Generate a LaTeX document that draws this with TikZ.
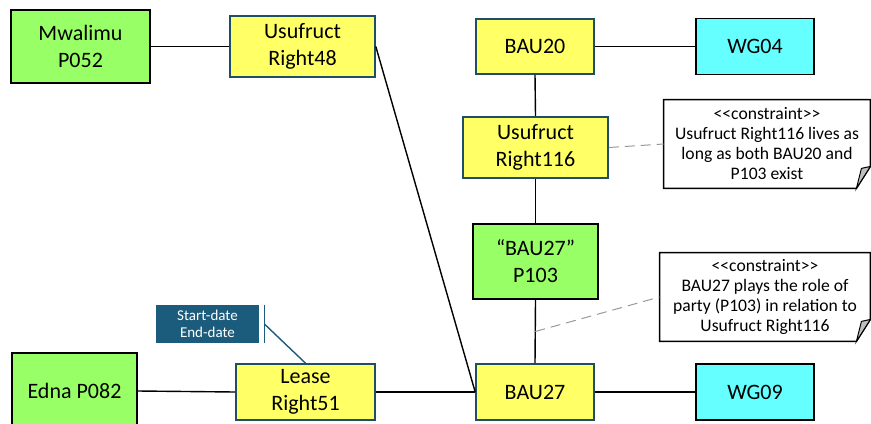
\documentclass[tikz,border=0pt]{standalone}
\usepackage{fontspec}
\setmainfont{Carlito}
\usepackage{tikz}
\usetikzlibrary{positioning,calc}
\definecolor{partygreen}{HTML}{99FF66}
\definecolor{rightyellow}{HTML}{FFFF66}
\definecolor{groupcyan}{HTML}{66FFFF}
\definecolor{rimblue}{HTML}{1F4E68}
\definecolor{datesteal}{HTML}{1B5C7C}

\begin{document}
\begin{tikzpicture}[
    x=0.5pt, y=-0.5pt,
    font=\fontsize{11}{13.5}\selectfont,
    box/.style={draw, inner sep=0pt, align=center, line width=0.8pt},
    party/.style={box, fill=partygreen, draw=black, minimum width=#1},
    right/.style={box, fill=rightyellow, draw=rimblue, minimum width=#1},
    group/.style={box, fill=groupcyan, draw=black, minimum width=59pt, minimum height=28pt},
    link/.style={line width=0.7pt},
    note/.style={inner sep=0pt, align=center, font=\fontsize{8.8}{10}\selectfont},
    hint/.style={dashed, dash pattern=on 5pt off 3pt, draw=black!40, line width=0.5pt}
]
\useasboundingbox (0,0) rectangle (871,423);

% parties and rights
\node[party=69.5pt, minimum height=36.5pt] (mwalimu) at (80.5,46.5) {Mwalimu\\P052};
\node[right=72.5pt, minimum height=30.5pt] (right48) at (302.5,46.5) {Usufruct\\Right48};
\node[right=59pt, minimum height=27.5pt] (bau20) at (535,46.5) {BAU20};
\node[group] (wg04) at (755,46.5) {WG04};
\node[right=72.5pt, minimum height=30.5pt] (right116) at (535.5,147.5) {Usufruct\\Right116};
\node[party=62.5pt, minimum height=37.5pt] (p103) at (535.5,261.5) {``BAU27''\\P103};
\node[right=59pt, minimum height=28pt] (bau27) at (535,392) {BAU27};
\node[group] (wg09) at (755,392) {WG09};
\node[party=62.5pt, minimum height=38pt] (edna) at (74.5,391) {Edna P082};
\node[right=69.5pt, minimum height=28pt] (right51) at (305.5,392) {Lease\\Right51};
\node[fill=datesteal, text=white, inner sep=0pt, minimum width=51.5pt, minimum height=19pt,
      align=center, font=\fontsize{7.5}{8.5}\selectfont] (dates) at (207.5,324) {Start-date\\End-date};

% constraint notes
\node[note, minimum width=103pt, minimum height=44pt] (consa) at (767,144)
  {<{}<constraint>{}>\\Usufruct Right116 lives as\\long as both BAU20 and\\P103 exist};
\node[note, minimum width=105pt, minimum height=44pt] (consb) at (765,297)
  {<{}<constraint>{}>\\BAU27 plays the role of\\party (P103) in relation to\\Usufruct Right116};

\foreach \n in {consa, consb} {
  \draw[line width=0.7pt] (\n.north west) -- (\n.north east) -- ($(\n.south east)+(0,-22)$)
    -- ($(\n.south east)+(-14,0)$) -- (\n.south west) -- cycle;
  \draw[line width=0.5pt, fill=black!25] ($(\n.south east)+(-14,0)$) -- ($(\n.south east)+(-9,-20)$)
    -- ($(\n.south east)+(0,-22)$) -- cycle;
}

% connectors
\foreach \a/\b in {mwalimu/right48, bau20/wg04, bau27/wg09, edna/right51, right51/bau27, right48/bau27}
  \draw[link] (\a.east) -- (\b.west);
\foreach \a/\b in {bau20/right116, right116/p103, p103/bau27}
  \draw[link] (\a.south) -- (\b.north);

\coordinate (role) at ($(p103.south)!0.5!(bau27.north)$);
\draw[hint] (right116.east) -- (consa.west);
\draw[hint] (role) -- (consb.west);

\coordinate (datesbar) at ($(dates.east)+(5,0)$);
\draw[datesteal, line width=0.8pt] ($(dates.north east)+(5,0)$) -- ($(dates.south east)+(5,0)$);
\draw[datesteal, line width=0.7pt] (datesbar) -- (right51.north);
\end{tikzpicture}
\end{document}
